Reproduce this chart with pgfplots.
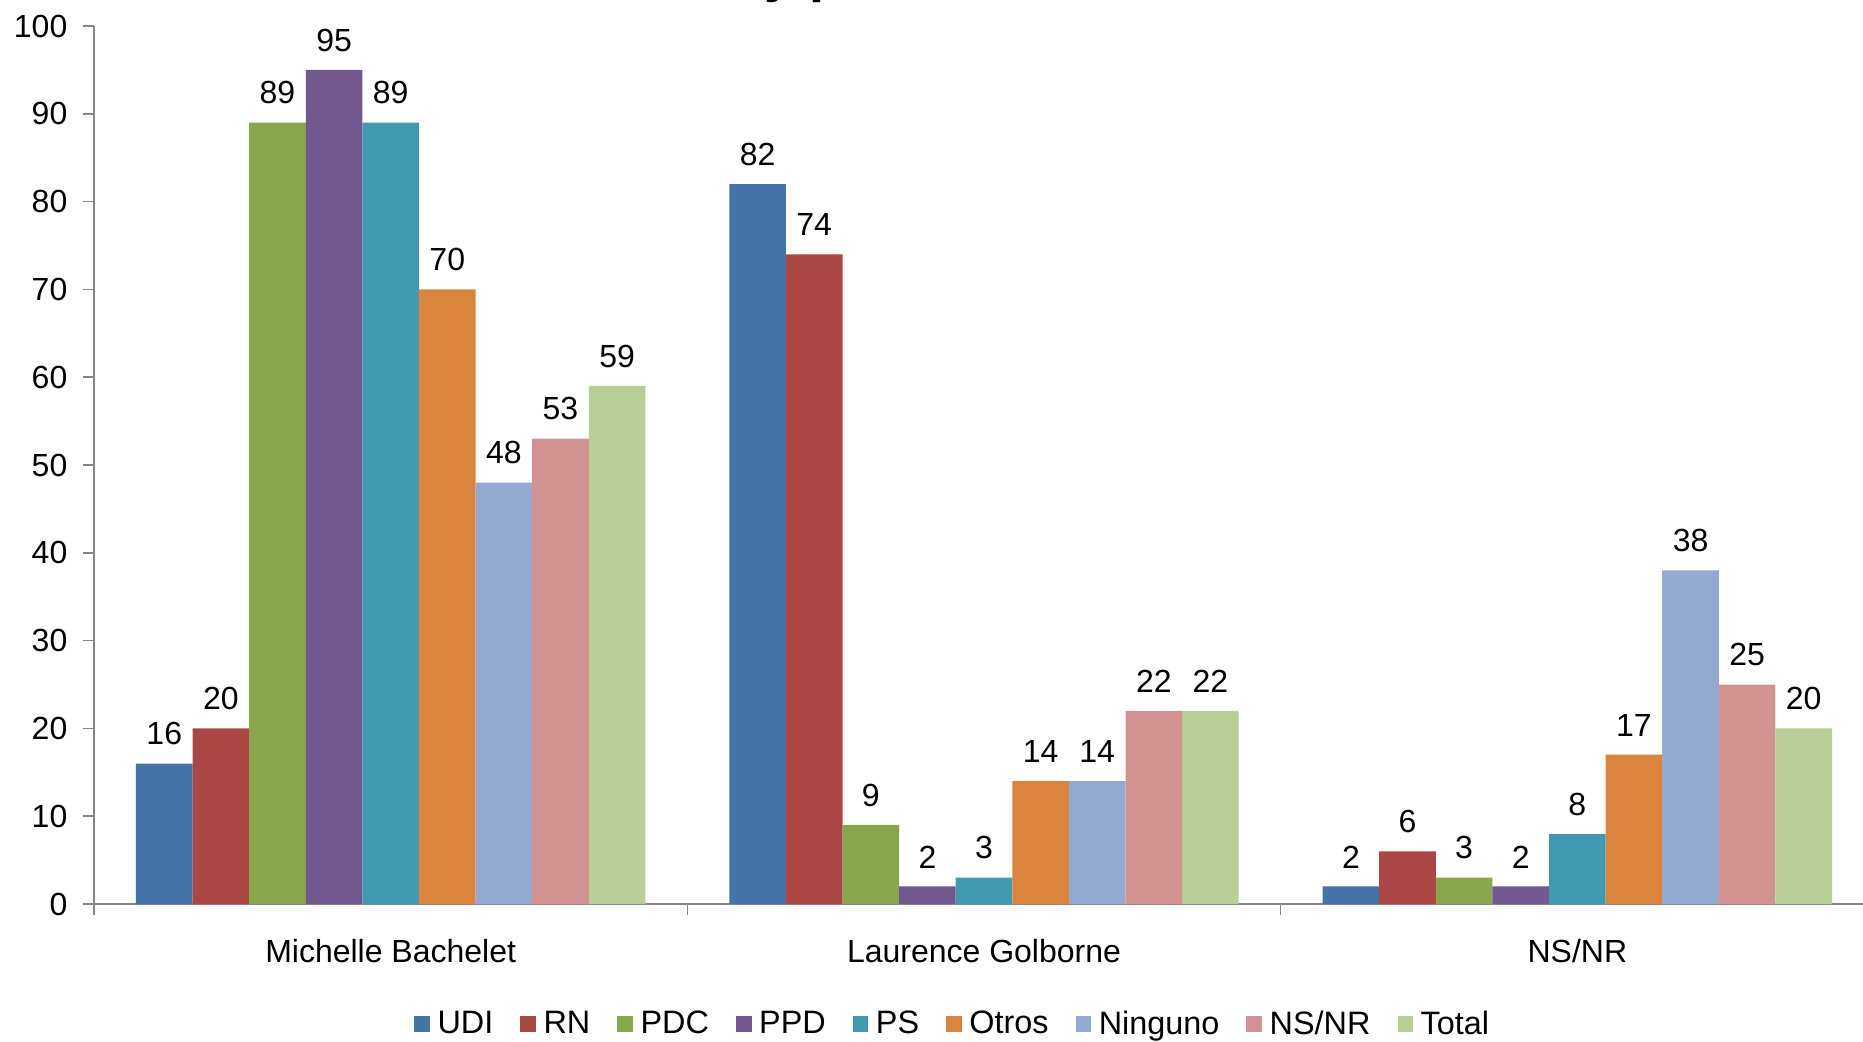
\documentclass[border=0pt]{standalone}
\usepackage{pgfplots}
\pgfplotsset{compat=1.18}
\usepackage{fontspec}
\setmainfont{Liberation Sans}
\definecolor{cUDI}{HTML}{4572A7}
\definecolor{cRN}{HTML}{AA4643}
\definecolor{cPDC}{HTML}{89A54E}
\definecolor{cPPD}{HTML}{71588F}
\definecolor{cPS}{HTML}{4198AF}
\definecolor{cOtros}{HTML}{DB843D}
\definecolor{cNin}{HTML}{93A9CF}
\definecolor{cNSNR}{HTML}{D19392}
\definecolor{cTot}{HTML}{B9CD96}
\definecolor{axisgray}{HTML}{868686}
\pgfplotsset{sq/.style={fill=#1, draw=none, legend image code/.code={\fill[#1] (0pt,-3.9pt) rectangle (7.8pt,3.9pt);}}}
\begin{document}
\begin{tikzpicture}
\path[use as bounding box] (0,0) rectangle (931.5pt,520.5pt);
\clip (0,0) rectangle (931.5pt,520.5pt);
\node[anchor=base west, inner sep=0pt, font=\bfseries\fontsize{27}{32}\selectfont] at (382pt,524.5pt) {y p};
\begin{axis}[
  at={(47pt,68.5pt)}, anchor=south west,
  scale only axis, width=890pt, height=439pt,
  ybar=0pt, bar width=28.3pt,
  xmin=-0.5, xmax=2.5, ymin=0, ymax=100,
  axis x line=bottom, axis y line=left,
  axis line style={draw=axisgray, line width=0.8pt, -},
  ytick={0,10,...,100},
  ytick style={draw=axisgray, line width=0.8pt},
  tick align=outside, major tick length=5.3pt,
  yticklabel style={font=\fontsize{16}{19}\selectfont, xshift=-4.5pt},
  /pgf/number format/assume math mode=true,
  xtick={0,1,2},
  xticklabels={Michelle Bachelet, Laurence Golborne, NS/NR},
  xtick style={draw=none},
  xticklabel style={font=\fontsize{16}{19}\selectfont, yshift=-9pt},
  extra x ticks={-0.5,0.5,1.5,2.5},
  extra x tick labels={},
  extra x tick style={xtick style={draw=axisgray, line width=0.8pt}, major tick length=5.5pt},
  nodes near coords,
  every node near coord/.append style={font=\fontsize{16}{19}\selectfont, inner sep=0pt, yshift=9pt, text=black},
  legend columns=-1,
  legend style={at={(0.483,-0.1367)}, anchor=center, draw=none, fill=none,
    font=\fontsize{16.2}{19}\selectfont,
    /tikz/every even column/.append style={column sep=11.5pt},
    /tikz/every odd column/.append style={column sep=1.8pt},
    legend cell align=left, inner sep=0pt},
]
\addplot[sq=cUDI] coordinates {(0,16) (1,82) (2,2)};
\addplot[sq=cRN] coordinates {(0,20) (1,74) (2,6)};
\addplot[sq=cPDC] coordinates {(0,89) (1,9) (2,3)};
\addplot[sq=cPPD] coordinates {(0,95) (1,2) (2,2)};
\addplot[sq=cPS] coordinates {(0,89) (1,3) (2,8)};
\addplot[sq=cOtros] coordinates {(0,70) (1,14) (2,17)};
\addplot[sq=cNin] coordinates {(0,48) (1,14) (2,38)};
\addplot[sq=cNSNR] coordinates {(0,53) (1,22) (2,25)};
\addplot[sq=cTot] coordinates {(0,59) (1,22) (2,20)};
\legend{UDI, RN, PDC, PPD, PS, Otros, Ninguno, NS/NR, Total}
\end{axis}
\end{tikzpicture}
\end{document}
